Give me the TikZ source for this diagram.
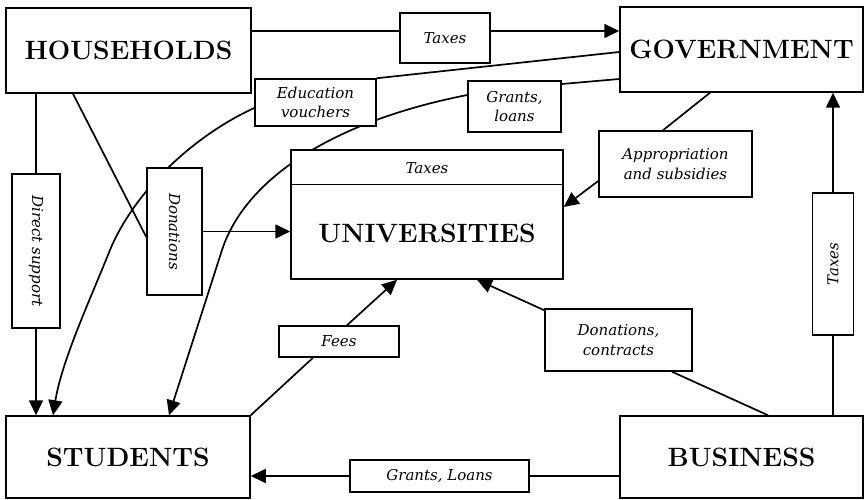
\documentclass[tikz,border=0pt]{standalone}
\usepackage{fontspec}
\usepackage{graphicx}
\newfontfamily\labfont{DejaVu Serif}
\usetikzlibrary{arrows.meta,backgrounds}
\tikzset{
  box/.style={draw,fill=white,line width=1.5pt,inner sep=0pt,align=center},
  big/.style={box,font=\bfseries\fontsize{26.5}{30}\selectfont},
  lab/.style={box,font=\labfont\itshape\fontsize{15}{19.5}\selectfont},
  conn/.style={line width=1.7pt},
  arr/.style={conn,-{Triangle[length=15pt,width=14pt]}}
}
\begin{document}
\begin{tikzpicture}[x=1pt,y=-1pt]
\useasboundingbox (0,0) rectangle (865,500);
% main boxes
\node[big,minimum width=245pt,minimum height=85pt] (hh) at (128.5,50.5) {HOUSEHOLDS};
\node[big,minimum width=243pt,minimum height=85pt] (gov) at (741.5,49.5) {GOVERNMENT};
\node[big,minimum width=244pt,minimum height=82pt] (stu) at (128,457) {STUDENTS};
\node[big,minimum width=243pt,minimum height=82pt] (bus) at (741.5,457) {BUSINESS};
\node[box,minimum width=272pt,minimum height=129pt] (univ) at (427,214.5) {};
\node[font=\bfseries\fontsize{26.5}{30}\selectfont,inner sep=0pt] (univt) at (427,233) {UNIVERSITIES};
\node[font=\labfont\itshape\fontsize{15}{19.5}\selectfont,inner sep=0pt] (univtax) at (427,168) {Taxes};
\draw[line width=1.5pt] ([yshift=-35pt]univ.north west) -- ([yshift=-35pt]univ.north east);
% labels
\node[lab,minimum width=90pt,minimum height=50pt] (taxT) at (445,38) {Taxes};
\node[lab,minimum width=121pt,minimum height=47pt] (ev) at (315.5,102.5) {Education\\vouchers};
\node[lab,minimum width=93pt,minimum height=51pt] (grl) at (514.5,106.5) {Grants,\\loans};
\node[lab,minimum width=153pt,minimum height=66pt] (app) at (675.5,164) {Appropriation\\and subsidies};
\node[lab,minimum width=48pt,minimum height=154pt] (dir) at (36,251) {\rotatebox{-90}{Direct support}};
\node[lab,minimum width=55pt,minimum height=127pt] (don) at (174.5,231.5) {\rotatebox{-90}{Donations}};
\node[lab,minimum width=41pt,minimum height=142pt] (taxR) at (833,264) {\rotatebox{90}{Taxes}};
\node[lab,minimum width=120pt,minimum height=31pt] (fees) at (339,341.5) {Fees};
\node[lab,minimum width=147pt,minimum height=62pt] (dc) at (618.5,340) {Donations,\\contracts};
\node[lab,minimum width=179pt,minimum height=32pt] (gl) at (439.5,476) {Grants, Loans};
% connectors
\begin{scope}[on background layer]
\coordinate (t1) at ([yshift=7pt]taxT.west);
\draw[conn] (hh.east |- t1) -- (t1);
\draw[arr] ([yshift=7pt]taxT.east) -- (gov.west |- t1);
\draw[conn] ([yshift=-2.5pt]gov.west) -- (ev.north east);
\draw[conn] ([yshift=-29.5pt]gov.west) -- ([yshift=22.5pt]grl.east);
\coordinate (g1) at (245,180);
\coordinate (g2) at (222,250);
\draw[arr] ([yshift=11.5pt]grl.west) .. controls (330,122) and (g1) .. (g2) -- ([xshift=41pt]stu.north);
\coordinate (e1) at (195,135);
\coordinate (e2) at (135,190);
\coordinate (e3) at (110,250);
\coordinate (e4) at (90,300);
\coordinate (e5) at (62,360);
\draw[arr] ([yshift=-5.5pt]ev.west) .. controls (e1) and (e2) .. (e3) .. controls (e4) and (e5) .. ([xshift=-75pt]stu.north);
\draw[conn] (hh.south -| dir.north) -- (dir.north);
\draw[arr] (dir.south) -- (stu.north -| dir.south);
\draw[conn] ([xshift=-55.5pt]hh.south) -- ([yshift=-5.5pt]don.west);
\draw[arr] (don.east) -- (don.east -| univ.west);
\draw[conn] ([xshift=-31.5pt]gov.south) -- ([xshift=-12.5pt]app.north);
\draw[arr] ([yshift=-17pt]app.west) -- ([yshift=7.5pt]univ.east);
\draw[conn] (bus.north -| taxR.south) -- (taxR.south);
\draw[arr] (taxR.north) -- (gov.south -| taxR.north);
\draw[conn] ([xshift=26.5pt]bus.north) -- ([xshift=53.5pt]dc.south);
\draw[arr] ([yshift=-2pt]dc.north west) -- ([xshift=50pt]univ.south);
\draw[conn] (stu.north east) -- ([xshift=-26pt]fees.south);
\draw[arr] ([xshift=8pt]fees.north) -- ([xshift=-30pt]univ.south);
\draw[conn] (bus.west |- gl.east) -- (gl.east);
\draw[arr] (gl.west) -- (stu.east |- gl.west);
\end{scope}
\end{tikzpicture}
\end{document}
